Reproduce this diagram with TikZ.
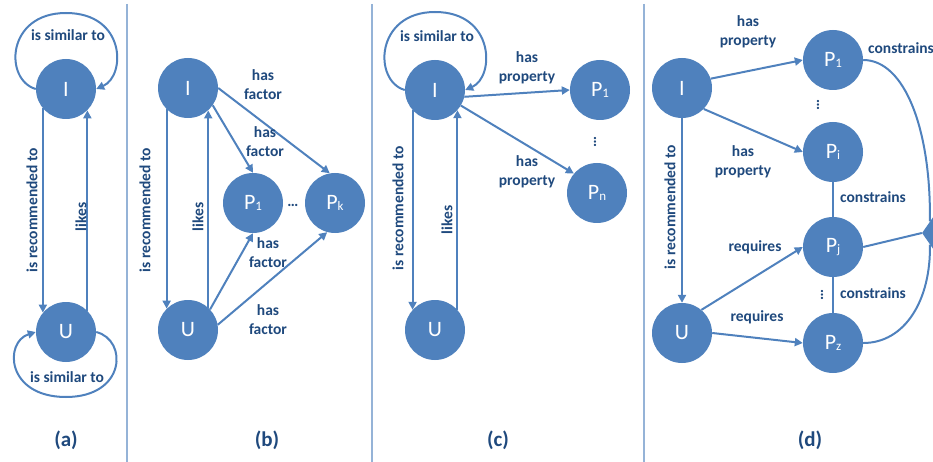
\documentclass[tikz,border=0pt]{standalone}
\usepackage{fontspec}
\setmainfont{Carlito}
\usetikzlibrary{arrows.meta,shapes.geometric}
\definecolor{nodeblue}{HTML}{4F81BD}
\definecolor{textblue}{HTML}{1F497D}
\definecolor{sepblue}{HTML}{95B3D7}
\newcommand{\psub}[1]{{\fontsize{13}{13}\selectfont\raisebox{-1.5pt}{#1}}}
\begin{document}
\begin{tikzpicture}[x=1pt,y=-1pt,
 ent/.style={circle,fill=nodeblue,draw=none,minimum size=60pt,inner sep=0pt,text=white,font=\fontsize{22}{22}\selectfont},
 rel/.style={draw=nodeblue,line width=2pt,-{Triangle[length=8pt,width=8pt]}},
 plain/.style={draw=nodeblue,line width=2pt},
 lbl/.style={text=textblue,font=\bfseries\fontsize{15.5}{19}\selectfont,align=center,inner sep=0pt},
 vlbl/.style={lbl,rotate=90},
 vdots/.style={lbl,rotate=90},
 capt/.style={text=textblue,font=\bfseries\fontsize{21}{21}\selectfont,inner sep=0pt},
 sepline/.style={draw=sepblue,line width=1.3pt},
]
\useasboundingbox (0,0) rectangle (933,462);

% separators
\draw[sepline] (127,4) -- (127,462);
\draw[sepline] (372,4) -- (372,462);
\draw[sepline] (644,4) -- (644,462);

% ---------- panel (a)
\node[ent] (aI) at (66,89) {I};
\node[ent] (aU) at (66,332) {U};
\coordinate (aTop) at (66,13);
\coordinate (aBot) at (66,397);
\draw[plain] (aI.west) .. controls (4,80) and (6,13) .. (aTop);
\draw[rel] (aTop) .. controls (126,13) and (126,76) .. (aI.east);
\draw[plain] (aU.east) .. controls (128,340) and (126,397) .. (aBot);
\draw[rel] (aBot) .. controls (6,397) and (4,342) .. (aU.west);
\draw[rel] (aI.220) -- (aU.140);
\draw[rel] (aU.45) -- (aI.315);
\node[lbl] (aLs1) at (68,35) {is similar to};
\node[lbl] (aLs2) at (67,377) {is similar to};
\node[vlbl] (aLr) at (32,210) {is recommended to};
\node[vlbl] (aLl) at (81,217) {likes};
\node[capt] (capA) at (66,440) {(a)};

% ---------- panel (b)
\node[ent] (bI) at (188,88) {I};
\node[ent] (bU) at (188,330) {U};
\node[ent] (bP1) at (253,203) {P\psub{1}};
\node[ent] (bPk) at (335,203) {P\psub{k}};
\draw[rel] (bI.225) -- (bU.135);
\draw[rel] (bU.48) -- (bI.312);
\draw[rel] (bI.-35) -- (bP1.north);
\draw[rel] (bI.east) -- (bPk.100);
\draw[rel] (bU.43) -- (bP1.south);
\draw[rel] (bU.10) -- (bPk.255);
\node[lbl] (bDots) at (293,205) {…};
\node[lbl] (bL1) at (263,85) {has\\factor};
\node[lbl] (bL2) at (265,142) {has\\factor};
\node[lbl] (bL3) at (268,253) {has\\factor};
\node[lbl] (bL4) at (268,320) {has\\factor};
\node[vlbl] (bLr) at (145,210) {is recommended to};
\node[vlbl] (bLl) at (198,217) {likes};
\node[capt] (capB) at (267,440) {(b)};

% ---------- panel (c)
\node[ent] (cI) at (435,90) {I};
\node[ent] (cU) at (435,330) {U};
\node[ent] (cP1) at (600,90) {P\psub{1}};
\node[ent] (cPn) at (597,193) {P\psub{n}};
\coordinate (cTop) at (435,12);
\draw[plain] (cI.west) .. controls (373,81) and (375,12) .. (cTop);
\draw[rel] (cTop) .. controls (495,12) and (495,77) .. (cI.east);
\draw[rel] (cI.222) -- (cU.138);
\draw[rel] (cU.42) -- (cI.318);
\draw[rel] (cI.-13) -- (cP1.west);
\draw[rel] (cI.-31) -- (cPn.140);
\node[lbl] (cLs) at (437,36) {is similar to};
\node[lbl] (cL1) at (527,68) {has\\property};
\node[lbl] (cL2) at (527,172) {has\\property};
\node[vdots] (cDots) at (595,142) {…};
\node[vlbl] (cLr) at (398,208) {is recommended to};
\node[vlbl] (cLl) at (447,220) {likes};
\node[capt] (capC) at (498,440) {(c)};

% ---------- panel (d)
\node[ent] (dI) at (682,88) {I};
\node[ent] (dU) at (682,333) {U};
\node[ent] (dP1) at (833,60) {P\psub{1}};
\node[ent] (dPi) at (833,152) {P\psub{i}};
\node[ent] (dPj) at (833,247) {P\psub{j}};
\node[ent] (dPz) at (833,343) {P\psub{z}};
\node[diamond,fill=nodeblue,draw=none,minimum width=32pt,minimum height=46pt,inner sep=0pt] (dC) at (938,233) {};
\draw[rel] (dI.south) -- (dU.north);
\draw[rel] (dI.18) -- (dP1.west);
\draw[rel] (dI.-44) -- (dPi.west);
\draw[rel] (dU.50) -- (dPj.west);
\draw[rel] (dU.east) -- (dPz.west);
\draw[plain] (dPi.south) -- (dPj.north);
\draw[plain] (dPj.south) -- (dPz.north);
\draw[plain] (dPj.east) -- (dC.west);
\draw[plain] (dP1.east) .. controls (905,60) and (931,130) .. (dC.north west);
\draw[plain] (dPz.east) .. controls (905,343) and (931,300) .. (dC.south west);
\node[lbl] (dL1) at (748,32) {has\\property};
\node[lbl] (dL2) at (743,162) {has\\property};
\node[lbl] (dL3) at (755,247) {requires};
\node[lbl] (dL4) at (757,317) {requires};
\node[lbl] (dL5) at (901,48) {constrains};
\node[lbl] (dL6) at (873,197) {constrains};
\node[lbl] (dL7) at (873,293) {constrains};
\node[vdots] (dDots1) at (818,105) {…};
\node[vdots] (dDots2) at (822,295) {…};
\node[vlbl] (dLr) at (670,207) {is recommended to};
\node[capt] (capD) at (810,440) {(d)};
\end{tikzpicture}
\end{document}
